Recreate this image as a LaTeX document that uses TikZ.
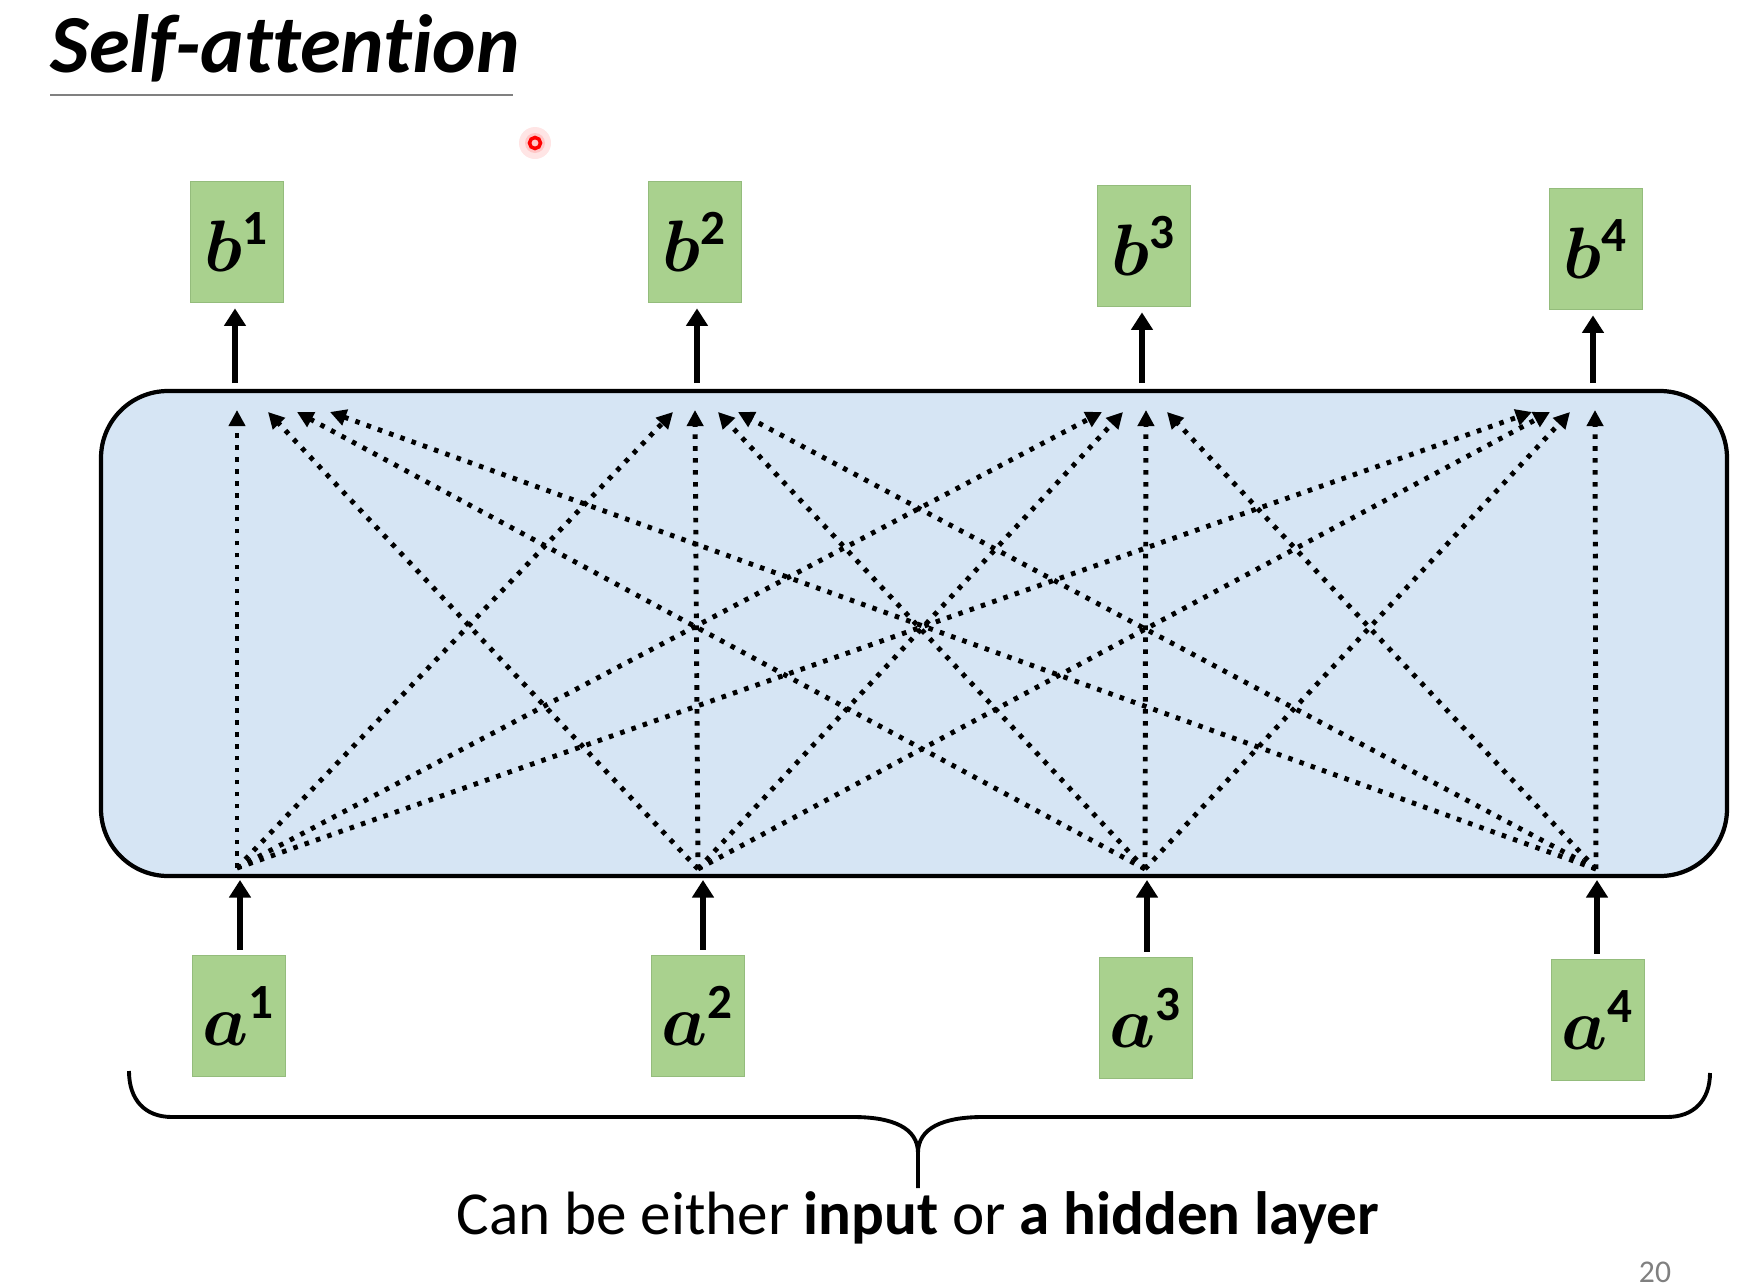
\documentclass[tikz,border=0pt]{standalone}
\usepackage{amsmath,bm}
\usepackage{fontspec}
\setmainfont[Ligatures={NoCommon}]{Carlito}
\usetikzlibrary{arrows.meta}
\definecolor{boxgreen}{RGB}{169,209,142}
\definecolor{boxedge}{RGB}{148,188,124}
\definecolor{sablue}{RGB}{214,229,244}
\begin{document}
\begin{tikzpicture}[x=0.1mm,y=-0.1mm,
  vecbox/.style={draw=boxedge, line width=0.5pt, fill=boxgreen, minimum width=9.3mm, minimum height=12.1mm, inner sep=0pt, font=\fontsize{20}{23}\selectfont},
  saframe/.style={draw=black, line width=1.2pt, fill=sablue, rounded corners=6.7mm, minimum width=162.6mm, minimum height=48.5mm, inner sep=0pt},
  solidarr/.style={line width=1.6pt, -{Triangle[length=5pt,width=6pt]}},
  dotarr/.style={line width=1.4pt, dash pattern=on 1.3pt off 2.1pt, -{Triangle[length=4.6pt,width=4.6pt]}},
  bracestroke/.style={line width=1.1pt}]
\useasboundingbox (0,0) rectangle (1758,1286);

% title
\node[anchor=base west, inner sep=0pt, font=\fontsize{23.5}{27}\selectfont\bfseries\itshape] (title) at (50,72) {Self-attention};
\draw[gray, line width=0.7pt] (50,95) -- (513,95);

% pointer dot
\fill[red!10] (535,143) circle (1.6mm);
\fill[red!22] (535,143) circle (1.0mm);
\draw[red, line width=1pt] (535,143) circle (0.55mm);

% self-attention block
\node[saframe] (sa) at (914,633.5) {};

% sources and targets of dotted connectors
\coordinate (s1) at (237,868);
\coordinate (s2) at (698,869);
\coordinate (s3) at (1145,869);
\coordinate (s4) at (1596,869);

\coordinate (t1a1) at (237,410);  \coordinate (t1a2) at (268,412);
\coordinate (t1a3) at (297,412);  \coordinate (t1a4) at (330,412);
\coordinate (t2a1) at (673,412);  \coordinate (t2a2) at (695,410);
\coordinate (t2a3) at (718,412);  \coordinate (t2a4) at (738,412);
\coordinate (t3a1) at (1102,412); \coordinate (t3a2) at (1123,412);
\coordinate (t3a3) at (1146,410); \coordinate (t3a4) at (1167,412);
\coordinate (t4a1) at (1532,412); \coordinate (t4a2) at (1550,412);
\coordinate (t4a3) at (1570,412); \coordinate (t4a4) at (1595,410);

\foreach \j in {1,2,3,4}{
  \foreach \i in {1,2,3,4}{
    \draw[dotarr] (s\i) -- (t\j a\i);
  }
}

% output boxes
\node[vecbox] (b1) at (237,242) {$\boldsymbol{b}^{\mathbf{1}}$};
\node[vecbox] (b2) at (695,242) {$\boldsymbol{b}^{\mathbf{2}}$};
\node[vecbox] (b3) at (1144,246) {$\boldsymbol{b}^{\mathbf{3}}$};
\node[vecbox] (b4) at (1596,249) {$\boldsymbol{b}^{\mathbf{4}}$};

% input boxes
\node[vecbox] (a1) at (239,1016) {$\boldsymbol{a}^{\mathbf{1}}$};
\node[vecbox] (a2) at (698,1016) {$\boldsymbol{a}^{\mathbf{2}}$};
\node[vecbox] (a3) at (1146,1018) {$\boldsymbol{a}^{\mathbf{3}}$};
\node[vecbox] (a4) at (1598,1020) {$\boldsymbol{a}^{\mathbf{4}}$};

% solid arrows out of the block
\coordinate (o1) at (235,383);  \coordinate (o2) at (697,383);
\coordinate (o3) at (1142,383); \coordinate (o4) at (1593,383);
\foreach \k in {1,2,3,4}{
  \draw[solidarr, shorten >=0.5mm] (o\k) -- (o\k |- b\k.south);
}

% solid arrows into the block
\coordinate (i1) at (240,880);  \coordinate (i2) at (703,880);
\coordinate (i3) at (1147,880); \coordinate (i4) at (1597,880);
\foreach \k in {1,2,3,4}{
  \draw[solidarr, shorten <=0.5mm] (i\k |- a\k.north) -- (i\k);
}

% brace
\draw[bracestroke] (129,1071) .. controls (129,1100) and (145,1117) .. (172,1117)
  -- (853,1117) .. controls (893,1117) and (918,1128) .. (918,1153) -- (918,1188);
\draw[bracestroke] (1710,1073) .. controls (1710,1100) and (1694,1117) .. (1667,1117)
  -- (983,1117) .. controls (943,1117) and (918,1128) .. (918,1153);

\node[anchor=base, inner sep=0pt, font=\fontsize{17.4}{20}\selectfont] (caption) at (918,1234)
  {Can be either \textbf{input} or \textbf{a hidden layer}};

% page number
\node[anchor=south, inner sep=0pt, text=gray, font=\fontsize{9}{11}\selectfont] (pagenum) at (1655,1283) {20};
\end{tikzpicture}
\end{document}
